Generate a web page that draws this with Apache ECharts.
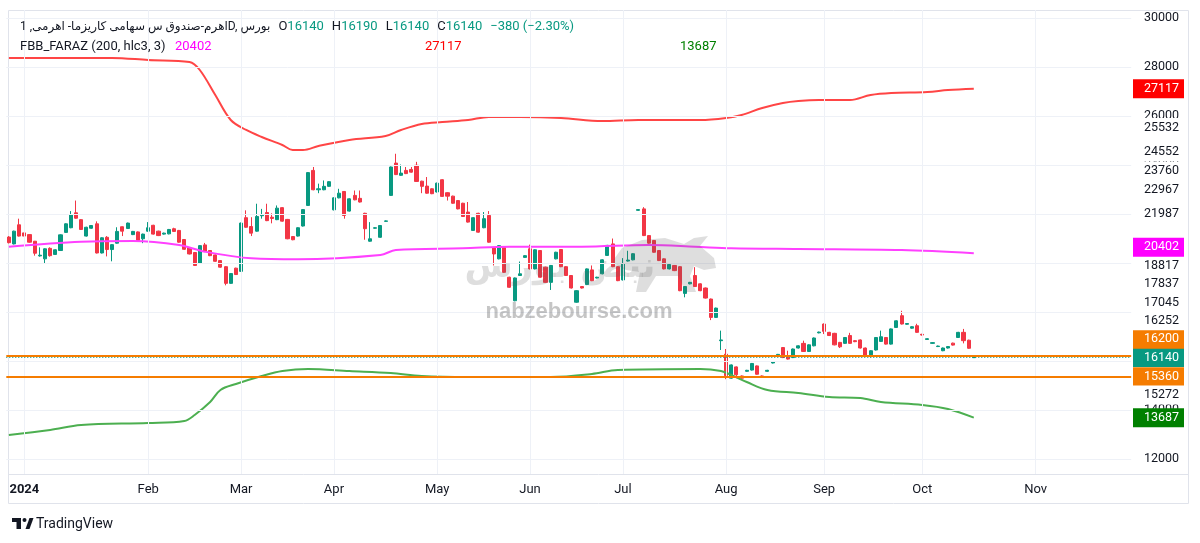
<!DOCTYPE html>
<html><head><meta charset="utf-8">
<script src="https://cdn.jsdelivr.net/npm/echarts@6/dist/echarts.min.js"></script>
<style>html,body{margin:0;padding:0;background:#fff;}#c{width:1200px;height:543px;}</style>
</head><body><div id="c"></div>
<script>
// ---------- DATA ----------
const monthLabels = ['2024','Feb','Mar','Apr','May','Jun','Jul','Aug','Sep','Oct','Nov'];
const monthStartBars = [3,27,45,63,83,101,119,139,158,177,199];
const totalBars = 218;
const categories = Array.from({length: totalBars}, (_, i) => String(i));

// [open, close, low, high]
const candles = [
[21060,20830,20800,21100],[20780,21300,20760,21320],[21560,21100,21080,21810],[21230,21100,21080,21250],
[21160,20850,20830,21180],[20890,20400,20300,20900],[20290,20320,20260,20640],[20170,20580,20000,20600],
[20600,20300,20260,20640],[20350,20540,20330,20560],[20510,21150,20490,21170],[21250,21600,21230,21620],
[21440,21980,21420,22120],[22050,21830,21810,22550],[21770,21370,21350,21790],[21100,21460,21080,21480],
[21420,21530,21400,21550],[21600,20410,20390,21700],[20410,21030,20390,21050],[21050,20550,20270,21100],
[20550,20750,20070,20770],[20810,21290,20790,21460],[21480,21300,21100,21490],[21410,21630,21390,21650],
[21160,21290,21140,21310],[21270,20920,20900,21290],[20990,21180,20810,21200],[21300,21440,21280,21670],
[21540,21180,21160,21560],[21300,21120,21100,21320],[21180,21220,21160,21240],[21190,21370,21170,21390],
[21400,21290,21270,21440],[21330,20850,20830,21350],[20960,20560,20540,20980],[20620,20370,20350,20640],
[20430,19900,19880,20450],[20000,20710,19980,20730],[20740,20480,20460,20820],[20510,20300,20280,20530],
[20330,20070,20050,20350],[20100,19830,19810,20120],[19850,19170,19090,19870],[19170,19570,19150,19590],
[19790,19530,19510,19810],[19660,21630,19640,21650],[21850,21460,21440,22150],[21490,21220,21100,21870],
[21300,21900,21280,22420],[21930,21980,21810,22210],[22060,21730,21710,22420],[21870,21820,21620,22030],
[21770,22240,21750,22350],[22260,21710,21690,22280],[21780,20990,20970,21800],[21080,20950,20930,21100],
[21100,21440,21080,21460],[21510,22180,21490,22200],[22350,23690,22330,23710],[23780,22990,22970,23920],
[22990,23030,22850,23240],[22990,23130,22970,23370],[23130,23320,23110,23340],[22170,22660,22150,22680],
[22660,22850,22640,23030],[22920,21940,21810,22940],[22120,22620,22100,22640],[22760,22580,22560,22960],
[22640,22490,22470,22960],[22030,21400,20950,22050],[20890,20990,20870,21670],[21420,21440,21400,21460],
[21050,21530,21030,21550],[21700,21720,21680,21740],[22760,23920,22740,23940],[24080,23610,23590,24460],
[23580,23670,23560,24020],[23780,23650,23630,23920],[23820,23710,23690,23920],[23990,23330,23310,24130],
[23340,23130,22850,23360],[23140,22850,22830,23510],[23030,22830,22810,23050],[22900,23260,22880,23280],
[23400,22720,22700,23420],[22870,22730,22550,22890],[22730,22440,22420,22750],[22550,22210,22190,22570],
[22440,21900,21880,22460],[22080,21670,21650,22490],[21330,21850,21310,21870],[22030,21260,21240,22050],
[21440,21810,21420,22080],[21940,20850,20830,22120],[20620,20370,19900,20640],[20170,20710,20150,20730],
[20640,19620,19600,20660],[19420,19010,18990,19440],[18460,19390,18440,19410],[19490,19560,19470,20060],
[20230,20300,20210,20320],[20580,19760,19740,20750],[19760,20540,19740,20560],[20510,19420,19400,20530],
[19830,19210,19190,19850],[19210,19900,18900,19920],[20170,20440,20150,20460],[20550,19850,19830,20570],
[19850,19490,19470,19870],[19490,18980,18960,19510],[18400,18870,18380,18890],[19040,18980,18960,19060],
[19120,19760,19100,19780],[19720,19280,19260,19900],[19390,19420,19370,19440],[19560,20130,19540,20150],
[20310,20720,20290,20740],[20780,19850,19830,21000],[19850,19280,19260,19870],[19310,19960,19290,20200],
[20080,20120,20060,20500],[20130,20380,20110,20400],[22150,22180,22130,22200],[22210,21120,21100,22280],
[21120,20810,20790,21140],[20920,20440,20420,20940],[20510,20100,20080,20530],[20170,19760,19740,20190],
[19760,19940,19740,19960],[19900,19690,19670,19920],[19850,18870,18850,19870],[18760,19040,18600,19060],
[19150,19210,19130,19230],[19490,19040,19020,19830],[19150,18870,18850,19170],[18980,18570,18550,19000],
[18530,17780,17670,18550],[17780,18160,17760,18180],[16830,16860,16450,17240],[16280,15400,15260,16490],
[15300,15840,15280,15860],[15760,15440,15300,15780],[15390,15300,15280,15410],[15580,15620,15560,15640],
[15630,15900,15610,15920],[15800,15460,15440,15820],[15390,15330,15310,15410],[15580,15620,15560,15640],
[15920,15960,15900,15980],[16240,16270,16220,16290],[16550,16140,16120,16570],[16140,16080,16060,16420],
[16140,16490,16120,16510],[16530,16620,16510,16640],[16720,16390,16370,16830],[16390,16660,16370,16680],
[16620,16940,16600,16960],[17150,17180,17130,17200],[17510,17210,17100,17530],[17170,17040,17020,17190],
[17130,16660,16640,17150],[16760,16580,16530,16780],[16720,16960,16700,16980],[17040,16720,16700,17150],
[16830,16790,16770,16850],[16860,16530,16510,16880],[16530,16210,16190,16550],[16250,16420,16150,16440],
[16450,16960,16430,16980],[16800,16990,16780,17240],[16960,16690,16670,16980],[16690,17310,16670,17330],
[17370,17640,17350,17660],[17850,17510,17490,18050],[17500,17530,17480,17550],[17340,17400,17320,17420],
[17440,17170,17150,17520],[17090,17060,17040,17110],[16880,16910,16860,16930],[16720,16750,16700,16770],
[16590,16610,16570,16630],[16420,16530,16400,16550],[16530,16590,16510,16610],[16730,16650,16630,16750],
[16960,17170,16940,17190],[17170,16830,16720,17310],[16850,16520,16500,16870],[16140,16140,16140,16190]
];

// FBB_FARAZ bands, [bar index, value]
const upperBand = [[0,28369],[20,28369],[27,28287],[35,28206],[37,27879],[40,26858],[43,25838],[46,25430],
[49,25144],[53,24817],[55,24613],[57,24613],[60,24777],[66,25022],[73,25185],[76,25430],[80,25675],[84,25756],
[89,25838],[93,25960],[99,25960],[107,25920],[115,25797],[122,25838],[134,25838],[139,25920],[142,26042],
[146,26328],[150,26532],[153,26614],[157,26654],[163,26654],[167,26858],[171,26940],[178,26980],[182,27061],[187,27117]];
const midBand = [[0,20666],[14,20870],[24,20899],[33,20735],[38,20462],[47,20193],[56,20152],[72,20327],
[75,20531],[88,20601],[97,20666],[111,20666],[124,20735],[133,20666],[140,20601],[153,20572],[173,20531],[187,20402]];
const lowerBand = [[0,12980],[8,13184],[14,13388],[27,13470],[34,13551],[36,13796],[39,14327],[41,14817],
[44,15062],[49,15388],[53,15592],[58,15674],[66,15592],[74,15511],[80,15388],[89,15347],[105,15347],[113,15470],
[118,15633],[134,15674],[138,15592],[140,15429],[143,15143],[147,14817],[153,14694],[159,14531],[165,14490],
[169,14327],[177,14204],[182,14041],[187,13687]];

const levelLines = [16200, 15360];
const lastClose = 16140;
const scaleLevels = [25532, 24552, 23760, 22967, 21987, 18817, 17837, 17045, 16252, 15272];
const priceTicks = [12000,14000,16000,18000,20000,22000,24000,26000,28000,30000];
const yMin = 11388, yMax = 30328;

const titleText = 'اهرم-صندوق س سهامی کاریزما- اهرمی, 1D, بورس';
const ohlc = [['O',16140],['H',16190],['L',16140],['C',16140]];
const changeText = '\u2212380 (\u22122.30%)';
const indicatorName = 'FBB_FARAZ (200, hlc3, 3)';

// ---------- CHART ----------
const chart = echarts.init(document.getElementById('c'), null, {renderer:'canvas'});
const FONT = 'Roboto, "Liberation Sans", "DejaVu Sans", sans-serif';
const last = a => a[a.length-1][1];
const gridLeft = 6.3, barW = 5.16;
const gridRight = 1200 - gridLeft - totalBars*barW;

chart.setOption({
  animation:false,
  backgroundColor:'#ffffff',
  grid:{left:gridLeft, right:gridRight, top:10, bottom:69, outerBoundsMode:'none', containLabel:false},
  xAxis:[
    {type:'category', data:categories, boundaryGap:true, gridIndex:0,
     axisLine:{show:false}, axisTick:{show:false}, splitLine:{show:false},
     axisLabel:{interval:(i)=>monthStartBars.indexOf(i)>=0, margin:9,
       formatter:(v,i)=>{const k=monthStartBars.indexOf(i); return k===0?'{y|'+monthLabels[k]+'}':(k>0?monthLabels[k]:'');},
       color:'#131722', fontSize:13, fontFamily:FONT,
       rich:{y:{fontWeight:'bold', fontSize:13, color:'#131722', fontFamily:FONT}}}},
    {type:'value', min:-0.5, max:totalBars-0.5, show:false, gridIndex:0}
  ],
  yAxis:[{type:'value', min:yMin, max:yMax, position:'right', show:false, scale:true}],
  series:[
    {type:'line', xAxisIndex:0, yAxisIndex:0, data:[], silent:true, z:1,
     markLine:{silent:true, symbol:['none','none'], label:{show:false}, animation:false,
       lineStyle:{color:'#eef1f7', width:1, type:'solid'},
       emphasis:{disabled:true},
       data: priceTicks.map(v=>({yAxis:v})).concat(monthStartBars.map(i=>({xAxis:i})))}},
    {type:'candlestick', xAxisIndex:0, yAxisIndex:0, data:candles, barWidth:3.6, z:3,
     itemStyle:{color:'#089981', color0:'#f23645', borderColor:'#089981', borderColor0:'#f23645', borderColorDoji:'#089981', borderWidth:1}},
    {type:'line', xAxisIndex:1, yAxisIndex:0, data:upperBand, smooth:0.35, symbol:'none', z:4,
     lineStyle:{color:'#ff4545', width:2}},
    {type:'line', xAxisIndex:1, yAxisIndex:0, data:midBand, smooth:0.35, symbol:'none', z:4,
     lineStyle:{color:'#ff40ff', width:2}},
    {type:'line', xAxisIndex:1, yAxisIndex:0, data:lowerBand, smooth:0.35, symbol:'none', z:4,
     lineStyle:{color:'#4caf50', width:2}},
    {type:'line', xAxisIndex:0, yAxisIndex:0, data:[], silent:true, z:5,
     markLine:{silent:true, symbol:['none','none'], label:{show:false}, animation:false, emphasis:{disabled:true},
       data: levelLines.map(v=>({yAxis:v, lineStyle:{color:'#f57c00', width:2, type:'solid'}}))
         .concat([{yAxis:lastClose, lineStyle:{color:'#089981', width:1, type:[1,2]}}])}}
  ]
});

// ---------- TEXT / SCALE LABELS ----------
const yPix = v => chart.convertToPixel({yAxisIndex:0}, v);
const g = [];
// frame
g.push({type:'rect', shape:{x:8.5,y:10.5,width:1180,height:493}, style:{fill:'none', stroke:'#e0e3eb', lineWidth:1}, silent:true, z:1});
g.push({type:'line', shape:{x1:8,y1:474.5,x2:1189,y2:474.5}, style:{stroke:'#e0e3eb', lineWidth:1}, silent:true, z:1});

// regular price ticks
priceTicks.forEach(v=>{
  g.push({type:'text', x:1144, y:yPix(v), z:20, silent:true,
    style:{text:String(v), fill:'#131722', fontSize:12.5, fontFamily:FONT, textAlign:'left', textVerticalAlign:'middle'}});
});
// stacked level labels
const items = [
  {v:last(upperBand), bg:'#ff0000', fg:'#ffffff'},
  {v:last(midBand), bg:'#ff00ff', fg:'#ffffff'},
  {v:last(lowerBand), bg:'#008000', fg:'#ffffff'},
  {v:levelLines[0], bg:'#f57c00', fg:'#ffffff'},
  {v:levelLines[1], bg:'#f57c00', fg:'#ffffff'}
].concat(scaleLevels.map(v=>({v, bg:'#ffffff', fg:'#131722'})));
const anchorY = yPix(lastClose);
const gap = 18.4;
const placed = [{v:lastClose, bg:'#089981', fg:'#ffffff', y:anchorY}];
let prev = anchorY;
items.filter(o=>o.v>lastClose).sort((a,b)=>a.v-b.v).forEach(o=>{ const y=Math.min(yPix(o.v), prev-gap); o.y=y; prev=y; placed.push(o); });
prev = anchorY;
items.filter(o=>o.v<lastClose).sort((a,b)=>b.v-a.v).forEach(o=>{ const y=Math.max(yPix(o.v), prev+gap); o.y=y; prev=y; placed.push(o); });
placed.forEach(o=>{
  g.push({type:'rect', shape:{x:1133,y:o.y-9.5,width:51,height:19}, style:{fill:o.bg}, silent:true, z:30});
  g.push({type:'text', x:1144, y:o.y, z:31, silent:true,
    style:{text:String(o.v), fill:o.fg, fontSize:12.5, fontFamily:FONT, textAlign:'left', textVerticalAlign:'middle'}});
});

// legend line 1
let rich1 = '{t|'+titleText+'}';
ohlc.forEach(p=>{ rich1 += '{s|}{k|'+p[0]+'}{v|'+p[1]+'}'; });
rich1 += '{s|}{v|'+changeText+'}';
g.push({type:'text', x:20, y:27, z:40, silent:true, style:{text:rich1, fontSize:13, fontFamily:FONT, textVerticalAlign:'middle',
  rich:{t:{fill:'#131722', fontSize:12, fontFamily:FONT}, s:{width:8}, k:{fill:'#131722', fontSize:13, fontFamily:FONT},
        v:{fill:'#089981', fontSize:13, fontFamily:FONT}}}});
// legend line 2
g.push({type:'text', x:20, y:47, z:40, silent:true, style:{text:indicatorName, fill:'#131722', fontSize:13, fontFamily:FONT, textVerticalAlign:'middle'}});
g.push({type:'text', x:175, y:47, z:40, silent:true, style:{text:String(last(midBand)), fill:'#ff00ff', fontSize:13, fontFamily:FONT, textVerticalAlign:'middle'}});
g.push({type:'text', x:425, y:47, z:40, silent:true, style:{text:String(last(upperBand)), fill:'#ff0000', fontSize:13, fontFamily:FONT, textVerticalAlign:'middle'}});
g.push({type:'text', x:680, y:47, z:40, silent:true, style:{text:String(last(lowerBand)), fill:'#008000', fontSize:13, fontFamily:FONT, textVerticalAlign:'middle'}});

// watermark
g.push({type:'text', x:560, y:268, z:25, silent:true, style:{text:'نبض بورس', fill:'rgba(90,90,90,0.2)', fontSize:35, fontWeight:'bold', fontFamily:'"DejaVu Sans", sans-serif', textAlign:'center', textVerticalAlign:'middle'}});
g.push({type:'polygon', z:25, silent:true, shape:{points:[[612,262],[622,248],[642,240],[665,238],[684,244],[694,238],[708,236],[700,246],[714,258],[716,268],[704,270],[694,266],[690,276],[696,292],[686,292],[678,276],[656,276],[646,292],[636,292],[640,272],[626,270]]}, style:{fill:'rgba(90,90,90,0.2)'}});
g.push({type:'text', x:579, y:312, z:25, silent:true, style:{text:'nabzebourse.com', fill:'rgba(80,80,80,0.33)', fontSize:22, fontWeight:'bold', fontFamily:'"Liberation Sans", Arial, sans-serif', textAlign:'center', textVerticalAlign:'middle'}});

// TradingView logo
g.push({type:'rect', shape:{x:12,y:518,width:9,height:4}, style:{fill:'#131722'}, silent:true});
g.push({type:'rect', shape:{x:16.5,y:518,width:4.5,height:11}, style:{fill:'#131722'}, silent:true});
g.push({type:'circle', shape:{cx:24.5,cy:520,r:2}, style:{fill:'#131722'}, silent:true});
g.push({type:'polygon', shape:{points:[[25.5,529],[29.5,518],[33.5,518],[29.5,529]]}, style:{fill:'#131722'}, silent:true});
g.push({type:'text', x:36, y:524, silent:true, style:{text:'TradingView', fill:'#131722', fontSize:14, fontFamily:FONT, textVerticalAlign:'middle'}});

chart.setOption({graphic:g});
</script></body></html>
